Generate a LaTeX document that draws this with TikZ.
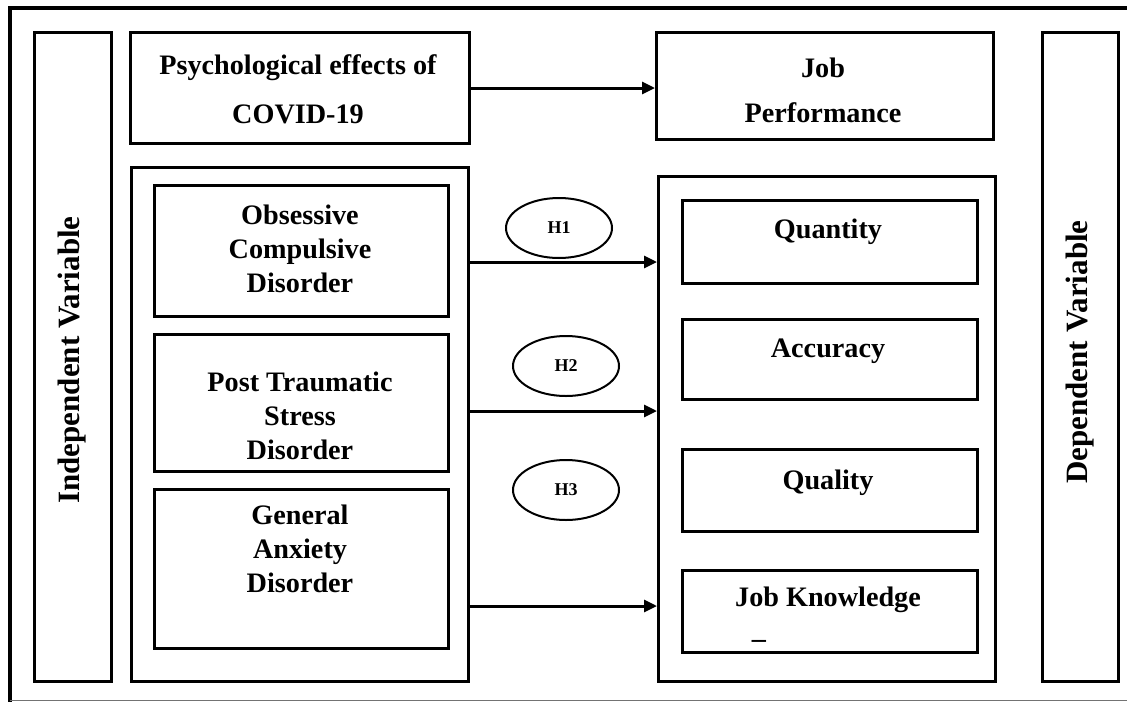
\documentclass[tikz,border=0pt]{standalone}
\usepackage{fontspec}
\setmainfont{Liberation Serif}
\usetikzlibrary{arrows.meta,shapes.geometric}
\tikzset{
  box/.style={draw, line width=3.3pt, inner sep=0pt, anchor=north west},
  lbl/.style={font=\bfseries\fontsize{28.2}{34}\selectfont, align=center, inner sep=0pt},
  side/.style={font=\bfseries\fontsize{31}{36}\selectfont, rotate=90, inner sep=0pt},
  ell/.style={draw, ellipse, line width=2pt, inner sep=0pt, font=\bfseries\fontsize{18}{20}\selectfont},
  arr/.style={-{Triangle[length=13pt,width=12pt]}, line width=3pt},
}
\begin{document}
\begin{tikzpicture}[x=1pt,y=-1pt]
\useasboundingbox (0,0) rectangle (1127,702);
% outer frame
\draw[line width=3.3pt] (1140,8) -- (10,8) -- (10,702);
\draw[line width=1pt, black!55] (10,700) -- (1140,700);
% side boxes
\node[box, minimum width=77pt, minimum height=649pt] (indep) at (33,31) {};
\node[side] (indept) at (72,360) {Independent Variable};
\node[box, minimum width=76pt, minimum height=649pt] (dep) at (1041,31) {};
\node[side] (dept) at (1080,352) {Dependent Variable};
% top boxes
\node[box, minimum width=339pt, minimum height=111pt] (psych) at (129,31) {};
\node[lbl] (psycht1) at (298,68) {Psychological effects of};
\node[lbl] (psycht2) at (298,114) {COVID-19};
\node[box, minimum width=337pt, minimum height=107pt] (jp) at (655,31) {};
\node[lbl] (jpt1) at (823,68) {Job};
\node[lbl] (jpt2) at (823,113) {Performance};
% big boxes
\node[box, minimum width=337pt, minimum height=514pt] (left) at (130,166) {};
\node[box, minimum width=337pt, minimum height=505pt] (right) at (657,175) {};
% independent inner boxes
\node[box, minimum width=294pt, minimum height=131pt] (ocd) at (153,184) {};
\node[lbl] (ocdt) at (300,249) {Obsessive\\Compulsive\\Disorder};
\node[box, minimum width=294pt, minimum height=137pt] (ptsd) at (153,333) {};
\node[lbl] (ptsdt) at (300,416) {Post Traumatic\\Stress\\Disorder};
\node[box, minimum width=294pt, minimum height=159pt] (gad) at (153,488) {};
\node[lbl] (gadt) at (300,549) {General\\Anxiety\\Disorder};
% dependent inner boxes
\node[box, minimum width=295pt, minimum height=83pt] (qty) at (681,199) {};
\node[lbl] (qtyt) at (828,232) {Quantity};
\node[box, minimum width=295pt, minimum height=80pt] (acc) at (681,318) {};
\node[lbl] (acct) at (828,351) {Accuracy};
\node[box, minimum width=295pt, minimum height=82pt] (qual) at (681,448) {};
\node[lbl] (qualt) at (828,483) {Quality};
\node[box, minimum width=295pt, minimum height=82pt] (jk) at (681,569) {};
\node[lbl] (jkt) at (828,600) {Job Knowledge};
\node[lbl] (jku) at (759,640) {\_};
% hypotheses
\node[ell, minimum width=106pt, minimum height=60pt] (h1) at (559,228) {H1};
\node[ell, minimum width=106pt, minimum height=60pt] (h2) at (566,366) {H2};
\node[ell, minimum width=106pt, minimum height=60pt] (h3) at (566,490) {H3};
% arrows
\coordinate (y0) at (560,88);
\coordinate (y1) at (560,262);
\coordinate (y2) at (560,411);
\coordinate (y3) at (560,606);
\draw[arr] (y0 -| psych.east) -- (y0 -| jp.west);
\draw[arr] (y1 -| left.east) -- (y1 -| right.west);
\draw[arr] (y2 -| left.east) -- (y2 -| right.west);
\draw[arr] (y3 -| left.east) -- (y3 -| right.west);
\end{tikzpicture}
\end{document}
